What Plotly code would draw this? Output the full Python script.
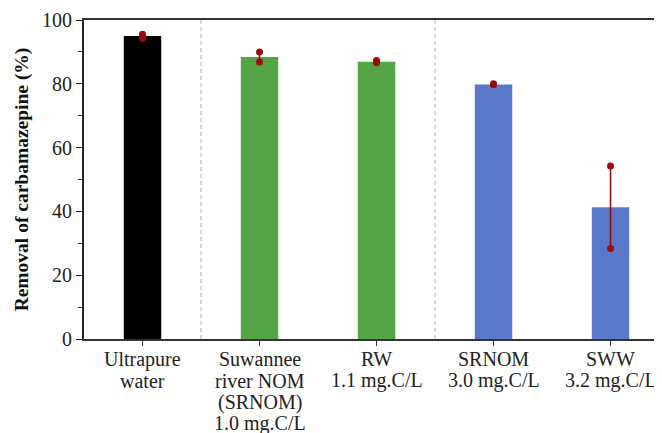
import plotly.graph_objects as go

category_lines = [
    ["Ultrapure", "water"],
    ["Suwannee", "river NOM", "(SRNOM)", "1.0 mg.C/L"],
    ["RW", "1.1 mg.C/L"],
    ["SRNOM", "3.0 mg.C/L"],
    ["SWW", "3.2 mg.C/L"],
]
removal = [95.0, 88.4, 86.9, 79.8, 41.3]
rep_high = [95.5, 90.0, 87.3, 80.0, 54.2]
rep_low = [94.3, 86.8, 86.6, 79.7, 28.4]
bar_colors = ["#000000", "#55A546", "#55A546", "#5B78C8", "#5B78C8"]
separators = [0.5, 2.5]
y_ticks = [0, 20, 40, 60, 80, 100]
y_minor = [10, 30, 50, 70, 90]

xs = list(range(len(category_lines)))

fig = go.Figure()
fig.add_trace(go.Bar(
    x=xs, y=removal, width=0.32,
    marker=dict(color=bar_colors, line=dict(width=0)),
    showlegend=False,
))
ex, ey = [], []
for i in xs:
    ex += [i, i, None]
    ey += [rep_low[i], rep_high[i], None]
fig.add_trace(go.Scatter(
    x=ex, y=ey, mode="lines+markers",
    line=dict(color="#8B0A0A", width=1.5),
    marker=dict(color="#9B0D0D", size=7),
    showlegend=False, connectgaps=False,
))
for s in separators:
    fig.add_shape(type="line", x0=s, x1=s, y0=0, y1=100, xref="x", yref="y",
                  line=dict(color="#C4C4C4", width=1.3, dash="4px,3px"), layer="below")

for i, lines in enumerate(category_lines):
    for k, txt in enumerate(lines):
        fig.add_annotation(x=i, xref="x", y=0, yref="y", text=txt, showarrow=False,
                           yanchor="middle", xanchor="center", yshift=-20 - 21.5 * k,
                           font=dict(size=20, family="Liberation Serif", color="#222222"))

fig.update_layout(
    width=654, height=425,
    margin=dict(l=76, r=0, t=12, b=94),
    paper_bgcolor="white", plot_bgcolor="white",
    font=dict(family="Liberation Serif", color="black"),
)
fig.update_xaxes(
    range=[-0.5, 4.44], tickmode="array", tickvals=xs, showticklabels=False,
    showline=True, linecolor="#333333", linewidth=2, mirror=True,
    ticks="outside", ticklen=5, tickcolor="#333333",
    showgrid=False, zeroline=False, automargin=False,
)
fig.update_yaxes(
    range=[0, 100], tickvals=y_ticks,
    showline=True, linecolor="#222222", linewidth=2,
    ticks="outside", ticklen=6, tickcolor="#222222",
    minor=dict(tickvals=y_minor, ticks="outside", ticklen=4, tickcolor="#222222"),
    tickfont=dict(size=20, family="Liberation Serif", color="#222222"),
    showgrid=False, zeroline=False, automargin=False,
    title=dict(text="<b>Removal of carbamazepine (%)</b>",
               font=dict(size=19.5, family="Liberation Serif", color="#111111"), standoff=8),
)
fig.write_html("out.html")
